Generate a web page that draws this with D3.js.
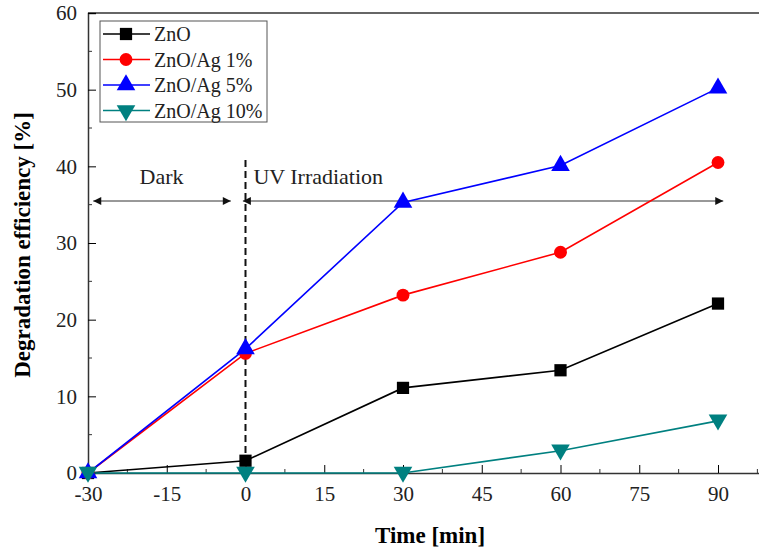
<!DOCTYPE html>
<html>
<head>
<meta charset="utf-8">
<script src="https://cdn.jsdelivr.net/npm/d3@7"></script>
<style>
  body { margin: 0; background: #fff; }
  svg { display: block; }
</style>
</head>
<body>
<div id="chart"></div>
<script>
// Data
const times = [-30, 0, 30, 60, 90];
const seriesNames = ["ZnO", "ZnO/Ag 1%", "ZnO/Ag 5%", "ZnO/Ag 10%"];
const znO = [0, 1.6, 11.1, 13.4, 22.1];
const znOAg1 = [0, 15.6, 23.2, 28.8, 40.5];
const znOAg5 = [0, 16.2, 35.3, 40.1, 50.2];
const znOAg10 = [0, 0, 0, 2.9, 6.8];
const xTicks = [-30, -15, 0, 15, 30, 45, 60, 75, 90];
const yTicks = [0, 10, 20, 30, 40, 50, 60];

const W = 759, H = 548;
const font = "'Liberation Serif', 'Times New Roman', serif";

const svg = d3.select("#chart").append("svg")
  .attr("width", W).attr("height", H)
  .style("font-family", font);

// Scales
const x = d3.scaleLinear().domain([-30, 100]).range([88, 770.5]);
const y = d3.scaleLinear().domain([0, 60]).range([473, 13]);

const series = [
  { name: seriesNames[0], values: znO, color: "#000000", shape: d3.symbolSquare, size: 150, rot: 0 },
  { name: seriesNames[1], values: znOAg1, color: "#ff0000", shape: d3.symbolCircle, size: 130, rot: 0 },
  { name: seriesNames[2], values: znOAg5, color: "#0000ff", shape: d3.symbolTriangle, size: 150, rot: 0 },
  { name: seriesNames[3], values: znOAg10, color: "#008080", shape: d3.symbolTriangle, size: 150, rot: 180 }
];

// Frame top line
svg.append("line")
  .attr("x1", x(-30)).attr("x2", W)
  .attr("y1", y(60)).attr("y2", y(60))
  .attr("stroke", "#333").attr("stroke-width", 1.5);

// X axis (ticks inside)
const xAxis = svg.append("g")
  .attr("transform", `translate(0,${y(0)})`)
  .call(d3.axisBottom(x).tickValues(xTicks).tickSize(-8).tickPadding(13).tickFormat((d) => String(d)));
xAxis.select(".domain").attr("stroke", "#333").attr("stroke-width", 1.5);
xAxis.selectAll("text").attr("font-size", 21).attr("fill", "#222").attr("font-family", font);
xAxis.append("g").selectAll("line")
  .data(d3.range(-22.5, 100, 15))
  .join("line")
  .attr("x1", (d) => x(d)).attr("x2", (d) => x(d))
  .attr("y1", 0).attr("y2", -4)
  .attr("stroke", "#333");

// Y axis
const yAxis = svg.append("g")
  .attr("transform", `translate(${x(-30)},0)`)
  .call(d3.axisLeft(y).tickValues(yTicks).tickSize(-8).tickPadding(11));
yAxis.select(".domain").attr("stroke", "#333").attr("stroke-width", 1.5);
yAxis.selectAll("text").attr("font-size", 21).attr("fill", "#222").attr("font-family", font);
yAxis.append("g").selectAll("line")
  .data(d3.range(5, 60, 10))
  .join("line")
  .attr("y1", (d) => y(d)).attr("y2", (d) => y(d))
  .attr("x1", 0).attr("x2", 4)
  .attr("stroke", "#333");

// Axis titles
svg.append("text")
  .attr("x", 430).attr("y", 543)
  .attr("text-anchor", "middle")
  .attr("font-size", 23).attr("font-weight", "bold")
  .text("Time [min]");

svg.append("text")
  .attr("transform", `translate(30,${(y(0) + y(60)) / 2 + 2}) rotate(-90)`)
  .attr("text-anchor", "middle")
  .attr("font-size", 23).attr("font-weight", "bold")
  .text("Degradation efficiency [%]");

// Dark / UV annotation
svg.append("line")
  .attr("x1", x(0)).attr("x2", x(0))
  .attr("y1", 160).attr("y2", y(0))
  .attr("stroke", "#111").attr("stroke-width", 2)
  .attr("stroke-dasharray", "7,4");

const defs = svg.append("defs");
defs.append("marker")
  .attr("id", "arrow")
  .attr("viewBox", "0 0 10 10")
  .attr("refX", 10).attr("refY", 5)
  .attr("markerWidth", 10).attr("markerHeight", 8)
  .attr("markerUnits", "userSpaceOnUse")
  .attr("orient", "auto-start-reverse")
  .append("path").attr("d", "M0,0L10,5L0,10Z").attr("fill", "#111");

const arrowY = 201;
svg.append("line")
  .attr("x1", x(-29)).attr("x2", x(-2.8))
  .attr("y1", arrowY).attr("y2", arrowY)
  .attr("stroke", "#333").attr("stroke-width", 1)
  .attr("marker-start", "url(#arrow)").attr("marker-end", "url(#arrow)");
svg.append("line")
  .attr("x1", x(-0.5)).attr("x2", x(91))
  .attr("y1", arrowY).attr("y2", arrowY)
  .attr("stroke", "#333").attr("stroke-width", 1)
  .attr("marker-start", "url(#arrow)").attr("marker-end", "url(#arrow)");

svg.append("text")
  .attr("x", x(-16)).attr("y", 184)
  .attr("text-anchor", "middle")
  .attr("font-size", 22).attr("fill", "#222")
  .text("Dark");
svg.append("text")
  .attr("x", x(1.5)).attr("y", 184)
  .attr("font-size", 22).attr("fill", "#222")
  .text("UV Irradiation");

// Lines and markers
const line = d3.line()
  .x((d, i) => x(times[i]))
  .y((d) => y(d));

series.forEach((s) => {
  svg.append("path")
    .datum(s.values)
    .attr("fill", "none")
    .attr("stroke", s.color)
    .attr("stroke-width", 1.6)
    .attr("d", line);
});

series.forEach((s) => {
  svg.append("g").selectAll("path")
    .data(s.values)
    .join("path")
    .attr("d", d3.symbol().type(s.shape).size(s.size))
    .attr("transform", (d, i) => `translate(${x(times[i])},${y(d) + (s.rot ? -1 : 0)}) rotate(${s.rot})`)
    .attr("fill", s.color);
});

// Legend
const legend = svg.append("g");
legend.append("rect")
  .attr("x", 100).attr("y", 21)
  .attr("width", 167).attr("height", 101)
  .attr("fill", "#fff")
  .attr("stroke", "#555").attr("stroke-width", 1);

series.forEach((s, i) => {
  const ly = 34 + i * 25.5;
  legend.append("line")
    .attr("x1", 103).attr("x2", 150)
    .attr("y1", ly).attr("y2", ly)
    .attr("stroke", s.color).attr("stroke-width", 1.6);
  legend.append("path")
    .attr("d", d3.symbol().type(s.shape).size(s.size))
    .attr("transform", `translate(126,${ly}) rotate(${s.rot})`)
    .attr("fill", s.color);
  legend.append("text")
    .attr("x", 154).attr("y", ly + 7)
    .attr("font-size", 20).attr("fill", "#222")
    .text(s.name);
});
</script>
</body>
</html>
